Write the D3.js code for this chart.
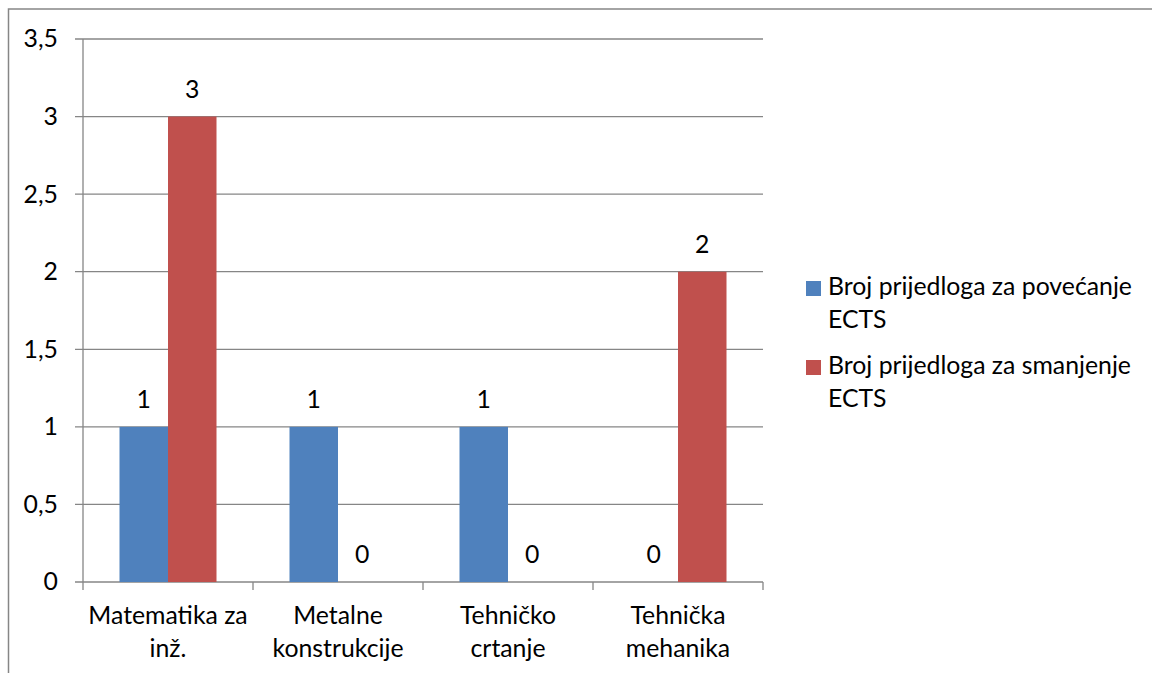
<!DOCTYPE html>
<html>
<head>
<meta charset="utf-8">
<script src="https://cdn.jsdelivr.net/npm/d3@7"></script>
<style>
  html, body { margin: 0; padding: 0; background: #fff; }
  svg { display: block; }
  text { font-family: Lato, "Open Sans", sans-serif; fill: #000; }
</style>
</head>
<body>
<svg id="chart" width="1152" height="673"></svg>
<script>
const categories = [["Matematika za", "inž."], ["Metalne", "konstrukcije"], ["Tehničko", "crtanje"], ["Tehnička", "mehanika"]];
const seriesNames = [["Broj prijedloga za povećanje", "ECTS"], ["Broj prijedloga za smanjenje", "ECTS"]];
const povecanje = [1, 1, 1, 0];
const smanjenje = [3, 0, 0, 2];
const yTicks = [0, 0.5, 1, 1.5, 2, 2.5, 3, 3.5];
const colors = ["#4F81BD", "#C0504D"];

(function () {
const svg = d3.select("#chart");
const W = 1152, H = 673;
const pL = 83, pR = 763, pT = 39, pB = 582;
const fontSize = 24.8;

// outer border (top + left)
svg.append("path")
  .attr("d", `M8.5,${H} L8.5,9 L${W},9`)
  .attr("fill", "none").attr("stroke", "#868686").attr("stroke-width", 1.5);

const catKeys = categories.map((c, i) => i);
const x = d3.scaleBand().domain(catKeys).range([pL, pR]).paddingInner(0).paddingOuter(0);
const xs = d3.scaleBand().domain([0, 1]).range([36.5, x.bandwidth() - 36.5]).padding(0);
const y = d3.scaleLinear().domain([0, 3.5]).range([pB, pT]);

// gridlines
svg.append("g").selectAll("line").data(yTicks).join("line")
  .attr("x1", pL - 8).attr("x2", pR)
  .attr("y1", d => y(d)).attr("y2", d => y(d))
  .attr("stroke", "#868686").attr("stroke-width", 1.3);

// y axis line
svg.append("line").attr("x1", pL).attr("x2", pL).attr("y1", pT).attr("y2", pB)
  .attr("stroke", "#868686").attr("stroke-width", 1.3);

// x ticks
const xTickPos = catKeys.map(k => x(k)).concat([pR]);
svg.append("g").selectAll("line").data(xTickPos).join("line")
  .attr("x1", d => d).attr("x2", d => d).attr("y1", pB).attr("y2", pB + 8)
  .attr("stroke", "#868686").attr("stroke-width", 1.3);

// y tick labels
const fmt = d => String(d).replace(".", ",");
svg.append("g").selectAll("text").data(yTicks).join("text")
  .attr("x", 58).attr("y", d => y(d)).attr("dy", "0.34em")
  .attr("text-anchor", "end").attr("font-size", fontSize)
  .text(fmt);

// bars
const series = [povecanje, smanjenje];
series.forEach((vals, si) => {
  const g = svg.append("g");
  g.selectAll("rect").data(vals).join("rect")
    .attr("x", (d, i) => x(i) + xs(si))
    .attr("width", xs.bandwidth())
    .attr("y", d => y(d))
    .attr("height", d => y(0) - y(d))
    .attr("fill", colors[si]);
  g.selectAll("text").data(vals).join("text")
    .attr("x", (d, i) => x(i) + xs(si) + xs.bandwidth() / 2)
    .attr("y", d => y(d) - 19)
    .attr("text-anchor", "middle").attr("font-size", fontSize)
    .text(d => d);
});

// category labels
const cl = svg.append("g").selectAll("text").data(categories).join("text")
  .attr("text-anchor", "middle").attr("font-size", fontSize);
cl.selectAll("tspan").data((d, i) => d.map(t => ({t, i}))).join("tspan")
  .attr("x", d => x(d.i) + x.bandwidth() / 2)
  .attr("y", (d, j) => 624 + j * 33)
  .text(d => d.t);

// legend
const legendY = [281, 360];
seriesNames.forEach((lines, si) => {
  svg.append("rect").attr("x", 806).attr("y", legendY[si]).attr("width", 15).attr("height", 15)
    .attr("fill", colors[si]);
  const t = svg.append("text").attr("font-size", fontSize);
  lines.forEach((ln, j) => {
    t.append("tspan").attr("x", 828).attr("y", legendY[si] + 14 + j * 33).text(ln);
  });
});
})();
</script>
</body>
</html>
